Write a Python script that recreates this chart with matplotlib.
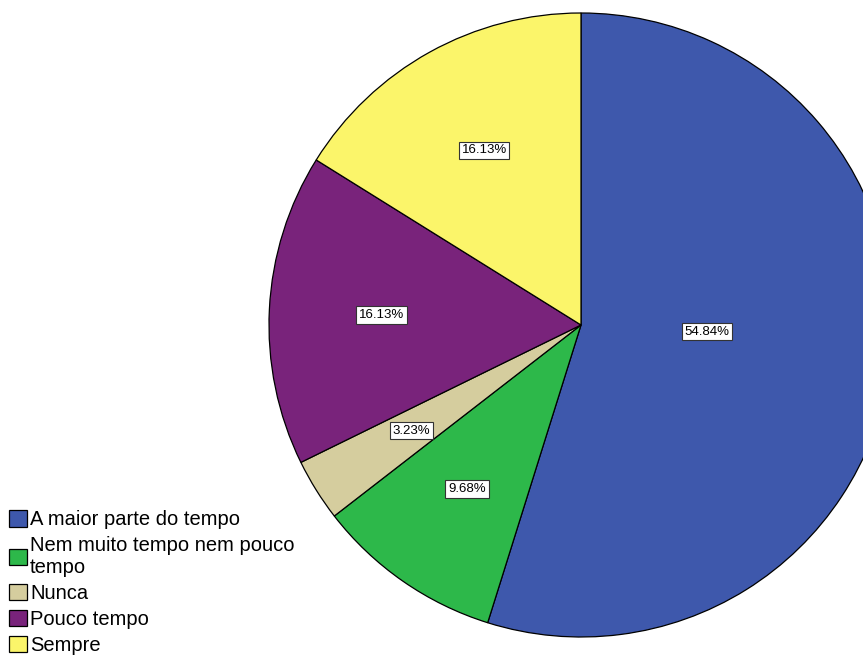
import matplotlib.pyplot as plt
import numpy as np

plt.rcParams['font.family'] = ['Liberation Sans', 'DejaVu Sans']

# Data
categories = ['A maior parte do tempo', 'Nem muito tempo nem pouco\ntempo',
              'Nunca', 'Pouco tempo', 'Sempre']
percentages = [54.84, 9.68, 3.23, 16.13, 16.13]
colors = ['#3e58ac', '#2db84a', '#d5cd9e', '#79237b', '#fbf56a']

fig = plt.figure(figsize=(8.63, 6.64), dpi=100)
ax = fig.add_axes([0, 0, 1, 1])

# pie centre at pixel (581, 325), radius 312 px
r_px = 312.0
cx, cy = 581.0, 664.0 - 325.0

wedges, texts, autotexts = ax.pie(
    percentages, colors=colors, startangle=90, counterclock=False,
    radius=1.0, autopct='%.2f%%', pctdistance=0.64,
    wedgeprops=dict(edgecolor='black', linewidth=0.9),
    textprops=dict(fontsize=9.5))

for i, t in enumerate(autotexts):
    t.set_text('%.2f%%' % percentages[i])
    t.set_bbox(dict(facecolor='white', edgecolor='#333333', linewidth=0.8, pad=2))
    if i == 0:
        # SPSS puts the big slice label nearer the centre
        ang = np.deg2rad(-3)
        t.set_position((0.405 * np.cos(ang), 0.405 * np.sin(ang)))

ax.set_xlim(-cx / r_px, (863 - cx) / r_px)
ax.set_ylim(-cy / r_px, (664 - cy) / r_px)
ax.set_aspect('equal')
ax.axis('off')

fig.legend(wedges, categories, loc='lower left', bbox_to_anchor=(0.0, 0.0),
           frameon=False, fontsize=14.5, handlelength=0.9, handleheight=0.9,
           handletextpad=0.15, labelspacing=0.33, borderpad=0.15,
           borderaxespad=0.3)

fig.savefig('out.png', dpi=100)
